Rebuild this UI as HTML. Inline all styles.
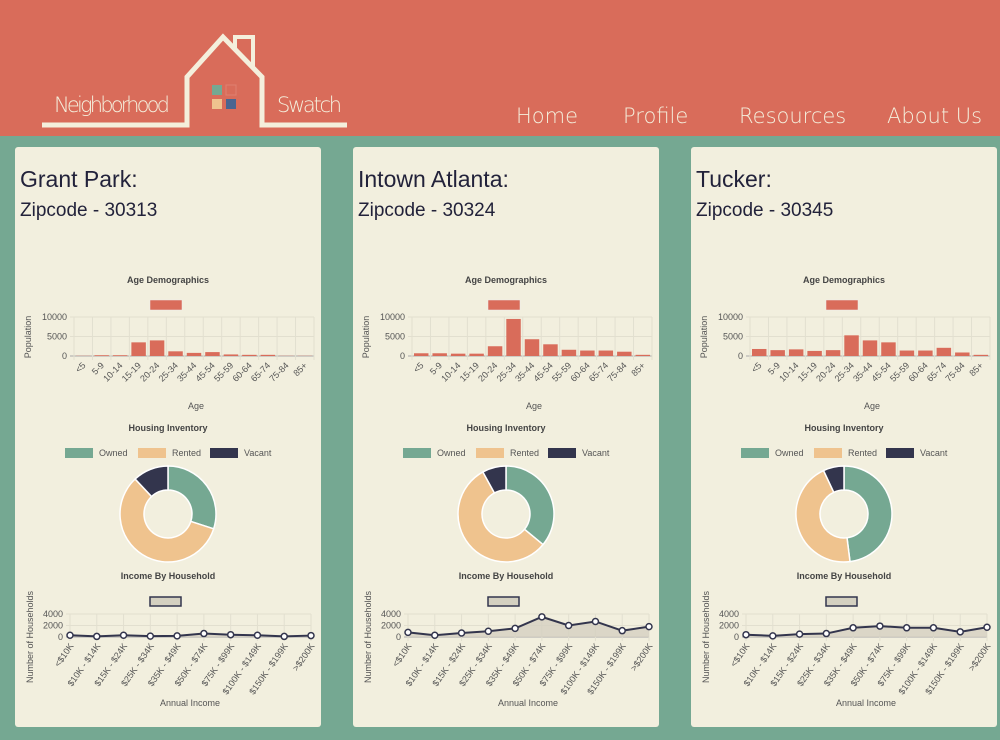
<!DOCTYPE html>
<html><head><meta charset="utf-8">
<style>
body{margin:0;width:1000px;height:740px;background:#75a892;font-family:"Liberation Sans",sans-serif;overflow:hidden;position:relative}
.hdr{position:absolute;left:0;top:0;width:1000px;height:136px;background:#d96c5a}
.nav{position:absolute;top:104px;color:#f4efdc;font-size:21px;font-family:"DejaVu Sans","Liberation Sans",sans-serif;font-weight:300}
.card{position:absolute;top:147px;width:306px;height:580px;background:#f2efde;border-radius:3px}
.card h1{position:absolute;left:5px;top:19px;margin:0;font-size:23px;font-weight:normal;color:#22223a}
.card h2{position:absolute;left:5px;top:53px;margin:0;font-size:19px;font-weight:normal;color:#22223a}
.card svg{position:absolute;left:0;top:0}
</style></head><body>
<div class="hdr">
<svg width="400" height="136" style="position:absolute;left:0;top:0">
<polyline points="42,125 187,125 187,77 223,37 262,77 262,125 347,125" fill="none" stroke="#f4efdc" stroke-width="5" stroke-linejoin="miter"/>
<polyline points="235,50 235,37 253,37 253,68" fill="none" stroke="#f4efdc" stroke-width="4"/>
<rect x="212" y="85" width="10" height="10" fill="#75a892"/><rect x="226" y="85" width="10" height="10" fill="none" stroke="#e08070" stroke-width="1"/>
<rect x="212" y="99" width="10" height="10" fill="#efc38e"/><rect x="226" y="99" width="10" height="10" fill="#4a6590"/>
<text x="54" y="112" fill="#f4efdc" font-size="21" font-family="DejaVu Sans" font-weight="300" textLength="116">Neighborhood</text>
<text x="277" y="112" fill="#f4efdc" font-size="21" font-family="DejaVu Sans" font-weight="300" textLength="65">Swatch</text>
</svg>
<span class="nav" style="left:516px">Home</span>
<span class="nav" style="left:623px">Profile</span>
<span class="nav" style="left:739px">Resources</span>
<span class="nav" style="left:887px">About Us</span>
</div>
<div class="card" style="left:15px" id="c0"><h1>Grant Park:</h1><h2>Zipcode - 30313</h2></div>
<div class="card" style="left:353px" id="c1"><h1>Intown Atlanta:</h1><h2>Zipcode - 30324</h2></div>
<div class="card" style="left:691px" id="c2"><h1>Tucker:</h1><h2>Zipcode - 30345</h2></div>
<script>
const ageCats=["<5","5-9","10-14","15-19","20-24","25-34","35-44","45-54","55-59","60-64","65-74","75-84","85+"];
const ageTicks=[0,5000,10000];
const ageGrant=[50,200,200,3500,4000,1200,800,1000,400,300,300,50,50];
const ageIntown=[700,700,600,600,2500,9500,4300,3000,1600,1400,1400,1100,300];
const ageTucker=[1800,1500,1700,1300,1500,5300,4000,3500,1400,1400,2100,900,300];
const housingCats=["Owned","Rented","Vacant"];
const housingGrant=[30,58,12];
const housingIntown=[36,56,8];
const housingTucker=[48,45,7];
const incomeCats=["<$10K","$10K - $14K","$15K - $24K","$25K - $34K","$35K - $49K","$50K - $74K","$75K - $99K","$100K - $149K","$150K - $199K",">$200K"];
const incomeTicks=[0,2000,4000];
const incomeGrant=[300,100,300,150,200,600,400,300,100,250];
const incomeIntown=[800,300,700,1000,1500,3500,2000,2700,1100,1800];
const incomeTucker=[400,200,500,600,1600,1900,1600,1600,900,1700];
const ages=[ageGrant,ageIntown,ageTucker],houses=[housingGrant,housingIntown,housingTucker],incs=[incomeGrant,incomeIntown,incomeTucker];
const NS="http://www.w3.org/2000/svg";
const hc=["#75a892","#efc38e","#33354d"];
function mk(p,t,a){const e=document.createElementNS(NS,t);for(const k in a)e.setAttribute(k,a[k]);p.appendChild(e);return e;}
function txt(p,x,y,s,o){const e=mk(p,'text',Object.assign({x:x,y:y,'font-size':9,fill:'#555','font-family':'Liberation Sans'},o||{}));e.textContent=s;return e;}
for(let c=0;c<3;c++){
 const card=document.getElementById('c'+c);
 const svg=mk(card,'svg',{width:306,height:580});
 
 
 const g=mk(svg,'g',{});
 
 
 const t1=txt(g,153,136,'Age Demographics',{'text-anchor':'middle','font-weight':'bold','fill':'#444'});
 
 const lg=mk(g,'rect',{x:135,y:153,width:32,height:10,fill:'#d96c5a',stroke:'#eee','stroke-width':0.5});
 
 const x0=59,x1=299,y0=209,y1=170,n=ageCats.length,bw=(x1-x0)/n;
 const ay=v=>y0-(v/10000)*(y0-y1);
 ageTicks.forEach(t=>{mk(g,'line',{x1:x0-4,x2:x1,y1:ay(t),y2:ay(t),stroke:t?'#e2dfcf':'#aaa','stroke-width':1});txt(g,x0-7,ay(t)+3,String(t),{'text-anchor':'end'});});
 for(let i=0;i<=n;i++)mk(g,'line',{x1:x0+i*bw,x2:x0+i*bw,y1:y1,y2:y0+4,stroke:'#e2dfcf'});
 ages[c].forEach((v,i)=>{const r=mk(g,'rect',{x:x0+i*bw+2,y:ay(v),width:bw-4,height:y0-ay(v),fill:'#d96c5a'});
  
  const cx=x0+(i+0.5)*bw+3,cy=y0+10;txt(g,cx,cy,ageCats[i],{'text-anchor':'end',transform:`rotate(-45 ${cx} ${cy})`});});
 const yl=txt(g,16,190,'Population',{'text-anchor':'middle',transform:'rotate(-90 16 190)'});
 
 const xl=txt(g,181,262,'Age',{'text-anchor':'middle'});
 
 const h=mk(svg,'g',{});
 
 
 txt(h,153,284,'Housing Inventory',{'text-anchor':'middle','font-weight':'bold','fill':'#444'});
 const lx=[50,123,195];
 housingCats.forEach((k,i)=>{const r=mk(h,'rect',{x:lx[i],y:301,width:28,height:10,fill:hc[i]});
  
  txt(h,lx[i]+34,309,k);});
 const cx=153,cy=367,R=48,r0=24,tot=houses[c].reduce((a,b)=>a+b,0);let a=0;
 houses[c].forEach((v,i)=>{const a2=a+v/tot*2*Math.PI;
  const P=(rr,an)=>[cx+rr*Math.sin(an),cy-rr*Math.cos(an)];
  const [ax,ayy]=P(R,a),[bx,by]=P(R,a2),[ix,iy]=P(r0,a2),[jx,jy]=P(r0,a);const L=(a2-a)>Math.PI?1:0;
  const s=mk(h,'path',{d:`M${ax},${ayy}A${R},${R} 0 ${L} 1 ${bx},${by}L${ix},${iy}A${r0},${r0} 0 ${L} 0 ${jx},${jy}Z`,fill:hc[i],stroke:'#fff','stroke-width':1.5});
  a=a2;});
 const q=mk(svg,'g',{});
 
 
 txt(q,153,432,'Income By Household',{'text-anchor':'middle','font-weight':'bold','fill':'#444'});
 const il=mk(q,'rect',{x:135,y:450,width:31,height:9,fill:'#d4d0c0',stroke:'#33354d','stroke-width':1.5});
 
 const ix0=55,ix1=296,iy0=490,iy1=467,m=incomeCats.length;
 const iX=i=>ix0+i*(ix1-ix0)/(m-1),iY=v=>iy0-v/4000*(iy0-iy1);
 incomeTicks.forEach(t=>{mk(q,'line',{x1:ix0-4,x2:ix1,y1:iY(t),y2:iY(t),stroke:t?'#e2dfcf':'#aaa'});txt(q,ix0-7,iY(t)+3,String(t),{'text-anchor':'end'});});
 for(let i=0;i<m;i++)mk(q,'line',{x1:iX(i),x2:iX(i),y1:iy1,y2:iy0+4,stroke:'#e2dfcf'});
 const pts=incs[c].map((v,i)=>[iX(i),iY(v)]);
 mk(q,'path',{d:'M'+pts.map(p=>p.join(',')).join('L')+`L${iX(m-1)},${iy0}L${ix0},${iy0}Z`,fill:'#d4d0c0',opacity:0.8});
 const ln=mk(q,'polyline',{points:pts.map(p=>p.join(',')).join(' '),fill:'none',stroke:'#33354d','stroke-width':2});
 
 pts.forEach((p,i)=>{const d=mk(q,'circle',{cx:p[0],cy:p[1],r:3,fill:'#fff',stroke:'#33354d','stroke-width':1.5});
  
  const tx=iX(i)+4,ty=iy0+9;txt(q,tx,ty,incomeCats[i],{'text-anchor':'end',transform:`rotate(-55 ${tx} ${ty})`});});
 const y2=txt(q,18,490,'Number of Households',{'text-anchor':'middle',transform:'rotate(-90 18 490)'});
 
 const x2=txt(q,175,559,'Annual Income',{'text-anchor':'middle'});
 
}
</script>
</body></html>
